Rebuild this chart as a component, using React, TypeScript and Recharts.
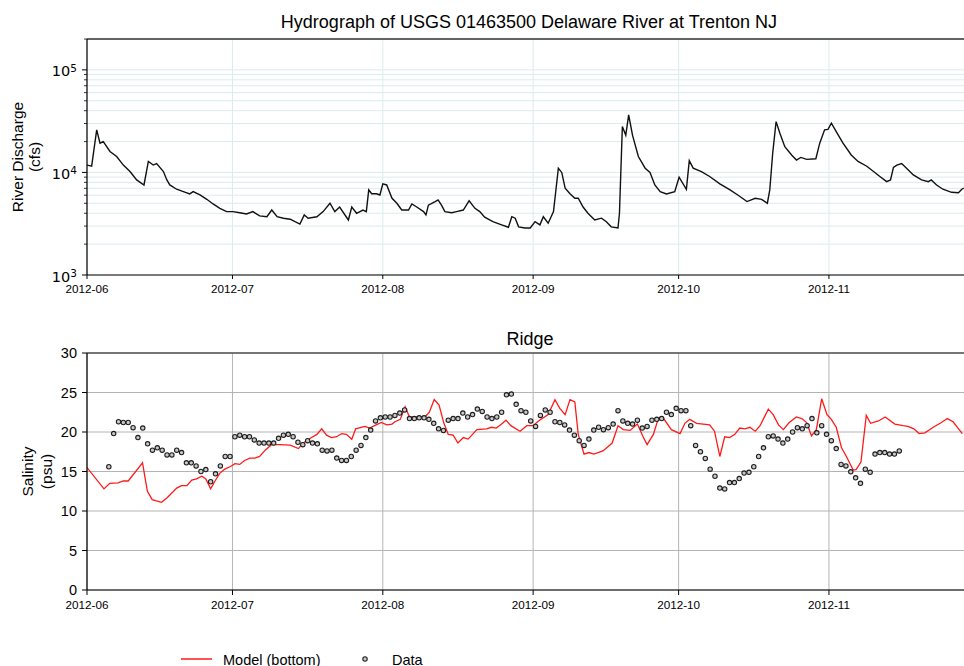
import React from "react";
import {
  LineChart,
  ComposedChart,
  Line,
  Scatter,
  XAxis,
  YAxis,
  CartesianGrid,
  ReferenceLine,
} from "recharts";

// ---- data ----
const monthTicks = [0, 30, 61, 92, 122, 153];
const monthLabels = ["2012-06", "2012-07", "2012-08", "2012-09", "2012-10", "2012-11"];

const flowTicks = [
  1000, 2000, 3000, 4000, 5000, 6000, 7000, 8000, 9000,
  10000, 20000, 30000, 40000, 50000, 60000, 70000, 80000, 90000,
  100000, 200000,
];
const salinityTicks = [0, 5, 10, 15, 20, 25, 30];

// days since 2012-06-01
const hydroDays = [
  0, 0.96, 2.0, 2.68, 3.36, 4.74, 6.12, 7.49, 8.87, 10.24,
  11.75, 12.65, 13.66, 14.36, 15.76, 16.47, 17.07, 18.48, 19.88, 21.19,
  21.89, 23.3, 24.7, 26.0, 27.4, 28.8, 30.1, 31.5, 32.9, 34.2,
  35.6, 37.1, 38.1, 39.2, 40.5, 41.9, 42.9, 43.9, 44.8, 45.6,
  47.4, 48.7, 50.1, 51.1, 52.1, 53.9, 54.6, 55.6, 56.9, 57.6,
  58.1, 58.7, 59.7, 60.4, 61.0, 61.8, 62.9, 63.9, 64.9, 66.3,
  67.0, 68.0, 69.4, 69.9, 70.4, 71.8, 72.4, 73.1, 73.8, 75.2,
  76.2, 77.6, 78.8, 80.0, 81.0, 82.0, 83.7, 85.5, 86.9, 87.6,
  88.3, 89.0, 90.3, 91.4, 92.4, 93.4, 94.1, 95.1, 96.2, 97.2,
  97.9, 98.6, 99.6, 100.6, 101.3, 102.3, 103.3, 104.7, 106.1, 107.1,
  108.1, 109.5, 109.8, 110.4, 111.1, 111.7, 112.5, 113.7, 115.1, 116.1,
  117.1, 118.2, 119.5, 121.2, 122.1, 123.6, 124.2, 125.0, 126.7, 128.4,
  130.5, 132.6, 134.2, 136.1, 137.8, 139.1, 140.3, 140.8, 141.4, 142.1,
  142.9, 143.9, 145.3, 146.3, 147.2, 148.4, 150.3, 151.1, 152.1, 152.8,
  153.5, 154.5, 155.9, 157.6, 159.0, 160.8, 162.2, 163.5, 164.9, 165.7,
  166.3, 167.0, 168.0, 169.0, 170.4, 172.1, 173.5, 174.1, 175.2, 176.5,
  178.3, 179.7, 180.4, 180.8,
];
const hydroFlow = [
  11800, 11500, 26000, 19300, 20000, 16000, 14300, 11800, 10200, 8450,
  7550, 12800, 11800, 12200, 10200, 8450, 7550, 6860, 6500, 6170,
  6500, 6030, 5470, 4930, 4470, 4150, 4150, 4050, 3940, 4150,
  3770, 3700, 4300, 3700, 3580, 3500, 3310, 3140, 3850, 3580,
  3700, 4150, 5010, 4150, 4600, 3440, 4600, 4000, 4300, 4150,
  6760, 6200, 6200, 6030, 7730, 7550, 5600, 5010, 4300, 4300,
  4930, 4600, 4150, 3850, 4800, 5200, 5400, 4800, 4150, 4050,
  4150, 4300, 5300, 4470, 4150, 3660, 3310, 3080, 2920, 3700,
  3580, 2950, 2870, 2870, 3310, 3080, 3700, 3200, 4150, 11000,
  10000, 7020, 6200, 5600, 5600, 4600, 4000, 3440, 3580, 3310,
  2950, 2870, 4000, 28000, 23000, 36400, 23000, 14300, 11000, 10000,
  7550, 6500, 6170, 6500, 8980, 6850, 13000, 11000, 10200, 9130,
  7730, 6760, 6030, 5200, 5600, 5470, 5010, 6760, 15400, 31300,
  24000, 17800, 14800, 13200, 14000, 13400, 13600, 19300, 26000, 26300,
  30200, 25000, 19300, 14800, 12800, 11500, 10200, 9130, 8130, 8450,
  11200, 11800, 12200, 11000, 9450, 8450, 8130, 8450, 7550, 6860,
  6400, 6350, 6860, 7020,
];

const modelDays = [
  0, 3.5, 4.7, 6.4, 7.5, 8.5, 11.45, 12.45, 13.45, 15.36,
  16.47, 18.5, 19.5, 20.6, 21.6, 22.6, 23.7, 24.5, 25.5, 26.4,
  27.4, 28.4, 29.5, 30.5, 31.5, 32.5, 33.6, 34.6, 35.6, 36.75,
  38.05, 39.8, 41.9, 43.6, 44.6, 46.3, 47.4, 48.4, 49.4, 50.4,
  51.5, 52.5, 53.5, 54.6, 55.4, 57.3, 58.3, 59.3, 60.7, 61.8,
  62.9, 63.5, 64.6, 65.6, 66.5, 68.0, 69.7, 70.6, 71.6, 72.6,
  73.6, 74.5, 75.5, 76.5, 77.6, 78.6, 80.4, 82.4, 83.4, 84.4,
  85.5, 86.4, 87.4, 89.3, 90.7, 92.0, 93.1, 95.1, 96.5, 97.5,
  98.6, 99.6, 100.6, 101.3, 102.5, 103.5, 104.5, 106.4, 108.3, 109.5,
  110.6, 112.0, 113.5, 114.6, 115.5, 116.8, 117.8, 118.8, 120.5, 122.3,
  123.3, 124.3, 125.7, 128.4, 129.4, 130.5, 131.5, 132.5, 133.6, 134.6,
  135.7, 136.7, 137.8, 138.8, 140.5, 141.5, 142.6, 143.6, 144.8, 146.3,
  147.4, 148.4, 149.4, 150.4, 151.5, 152.6, 153.5, 154.5, 155.6, 156.6,
  158.0, 158.6, 159.6, 160.7, 161.6, 163.2, 164.6, 166.6, 168.3, 169.3,
  170.5, 171.6, 172.8, 174.5, 176.2, 177.4, 178.6, 180.5,
];
const modelSalinity = [
  15.5, 12.8, 13.5, 13.56, 13.8, 13.8, 16.1, 12.5, 11.44, 11.1,
  11.65, 12.9, 13.2, 13.2, 13.9, 14.07, 14.4, 14.07, 12.8, 13.8,
  14.8, 15.3, 15.6, 16.0, 15.9, 16.4, 16.7, 16.7, 16.9, 17.7,
  18.4, 18.4, 18.35, 17.9, 18.6, 19.3, 19.7, 20.4, 19.6, 19.3,
  19.4, 19.8, 19.7, 19.07, 20.4, 20.7, 20.5, 20.8, 21.2, 20.9,
  21.0, 21.3, 21.6, 23.2, 21.9, 21.9, 21.9, 22.5, 24.1, 23.4,
  21.1, 19.7, 19.6, 18.6, 19.3, 19.1, 20.3, 20.4, 20.6, 20.5,
  21.0, 21.5, 20.8, 20.1, 20.8, 20.8, 21.4, 22.2, 24.1, 23.0,
  22.2, 24.1, 23.8, 19.7, 17.2, 17.4, 17.2, 17.6, 18.6, 20.8,
  20.3, 20.2, 21.0, 19.5, 18.4, 19.7, 21.7, 21.8, 20.3, 19.8,
  21.1, 21.6, 21.1, 20.9, 20.1, 16.9, 19.4, 19.3, 19.7, 20.5,
  20.4, 20.6, 20.1, 20.8, 22.9, 22.2, 20.9, 20.3, 21.2, 21.9,
  21.7, 21.2, 19.5, 20.3, 24.2, 22.2, 21.6, 20.6, 18.0, 16.9,
  15.2, 15.25, 16.2, 22.1, 21.1, 21.4, 21.9, 21.0, 20.8, 20.7,
  20.4, 19.8, 19.9, 20.6, 21.2, 21.7, 21.3, 19.8,
];

// daily observations, first one on day 4.5 (June 5, midday)
const obsFirstDay = 4.5;
const obsSalinity = [
  15.6, 19.8, 21.3, 21.2, 21.2, 20.55, 19.3, 20.5, 18.5, 17.7,
  18.0, 17.7, 17.1, 17.1, 17.7, 17.4, 16.1, 16.1, 15.7, 15.0,
  15.25, 13.7, 14.7, 15.7, 16.9, 16.9, 19.4, 19.6, 19.4, 19.4,
  19.0, 18.6, 18.6, 18.6, 18.6, 19.2, 19.6, 19.7, 19.4, 18.7,
  18.4, 18.9, 18.6, 18.5, 17.7, 17.6, 17.7, 16.7, 16.4, 16.4,
  16.9, 17.7, 18.3, 19.3, 20.25, 21.4, 21.8, 21.9, 21.9, 22.1,
  22.4, 22.8, 21.7, 21.7, 21.8, 21.8, 21.6, 21.1, 20.4, 20.2,
  21.5, 21.7, 21.7, 22.4, 21.9, 22.2, 22.9, 22.6, 21.9, 21.7,
  21.9, 22.5, 24.7, 24.8, 23.5, 22.7, 22.5, 21.4, 20.7, 22.1,
  22.8, 22.5, 21.3, 21.2, 20.9, 20.25, 19.6, 18.9, 18.3, 19.1,
  20.25, 20.6, 20.3, 20.55, 21.0, 22.7, 21.4, 21.1, 21.0, 21.5,
  20.5, 20.7, 21.5, 21.6, 21.7, 22.5, 22.2, 23.0, 22.7, 22.7,
  20.8, 18.3, 17.5, 16.65, 15.3, 14.4, 12.9, 12.8, 13.6, 13.6,
  14.1, 14.8, 14.9, 15.6, 16.9, 18.0, 19.4, 19.5, 19.1, 18.6,
  19.1, 20.0, 20.55, 20.4, 20.8, 21.7, 19.9, 20.8, 19.7, 18.9,
  17.9, 15.9, 15.7, 14.96, 14.2, 13.5, 15.3, 14.9, 17.2, 17.4,
  17.4, 17.2, 17.2, 17.6,
];

const hydroData = hydroDays.map((d, i) => ({ day: d, q: hydroFlow[i] }));
const modelData = modelDays.map((d, i) => ({ day: d, s: modelSalinity[i] }));
const obsData = obsSalinity.map((s, i) => ({ day: obsFirstDay + i, s }));

// ---- styling ----
const FONT = "'Liberation Sans', Arial, Helvetica, sans-serif";
const X_DOMAIN: [number, number] = [0, 182.5];
const CHART_W = 972;

const monthFmt = (v: number) => {
  const i = monthTicks.indexOf(v);
  return i >= 0 ? monthLabels[i] : "";
};

function FlowTick(props: any) {
  const { x, y, payload } = props;
  const v = payload.value as number;
  const e = Math.log10(v);
  const exp = Math.round(e);
  const major = Math.abs(e - exp) < 1e-9;
  return (
    <g>
      <line x1={x} x2={x - (major ? 5 : 3)} y1={y} y2={y} stroke="#000" strokeWidth={major ? 1 : 0.8} />
      {major && (
        <text
          x={x - 10}
          y={y + 6.5}
          textAnchor="end"
          fontFamily="'DejaVu Sans', sans-serif"
          fontSize={14.5}
          fill="#000"
        >
          10
          <tspan dy={-4.5} fontSize={10.5}>
            {exp}
          </tspan>
        </text>
      )}
    </g>
  );
}

function ObsDot(props: any) {
  const { cx, cy } = props;
  if (cx == null || cy == null) return null;
  return <circle cx={cx} cy={cy} r={2.2} fill="#c8c8c8" stroke="#1e1e1e" strokeWidth={1.1} />;
}

export default function App() {
  return (
    <div
      style={{
        position: "absolute",
        left: 0,
        top: 0,
        width: 964,
        height: 666,
        overflow: "hidden",
        background: "#fff",
        fontFamily: FONT,
      }}
    >
      {/* Top panel: hydrograph */}
      <div style={{ position: "absolute", left: 0, top: 0 }}>
        <LineChart
          width={CHART_W}
          height={300}
          data={hydroData}
          margin={{ top: 39, right: 0, bottom: 5, left: 0 }}
        >
          <CartesianGrid stroke="#dcebee" strokeWidth={1} />
          <XAxis
            dataKey="day"
            type="number"
            domain={X_DOMAIN}
            allowDataOverflow
            ticks={monthTicks}
            interval={0}
            tickFormatter={monthFmt}
            height={20}
            tickSize={4}
            tickMargin={6}
            axisLine={{ stroke: "#000", strokeWidth: 1.2 }}
            tickLine={{ stroke: "#000" }}
            tick={{ fontSize: 11.7, fill: "#000", fontFamily: FONT }}
          />
          <YAxis
            type="number"
            scale="log"
            domain={[1000, 200000]}
            allowDataOverflow
            ticks={flowTicks}
            interval={0}
            width={87}
            tickSize={0}
            tickMargin={0}
            tickLine={false}
            axisLine={{ stroke: "#000", strokeWidth: 1.2 }}
            tick={<FlowTick />}
          />
          <ReferenceLine y={200000} stroke="#333" strokeWidth={1.5} ifOverflow="visible" />
          <Line
            dataKey="q"
            type="linear"
            stroke="#111"
            strokeWidth={1.4}
            dot={false}
            isAnimationActive={false}
          />
        </LineChart>
      </div>

      {/* Bottom panel: salinity */}
      <div style={{ position: "absolute", left: 0, top: 320 }}>
        <ComposedChart
          width={CHART_W}
          height={300}
          margin={{ top: 33, right: 0, bottom: 5, left: 0 }}
        >
          <CartesianGrid stroke="#b4b4b4" strokeWidth={1} />
          <XAxis
            dataKey="day"
            type="number"
            domain={X_DOMAIN}
            allowDataOverflow
            ticks={monthTicks}
            interval={0}
            tickFormatter={monthFmt}
            height={25}
            tickSize={5}
            tickMargin={6}
            axisLine={{ stroke: "#000", strokeWidth: 1.2 }}
            tickLine={{ stroke: "#000" }}
            tick={{ fontSize: 11.7, fill: "#000", fontFamily: FONT }}
          />
          <YAxis
            type="number"
            domain={[0, 30]}
            ticks={salinityTicks}
            interval={0}
            width={87}
            tickSize={5}
            tickMargin={5}
            axisLine={{ stroke: "#000", strokeWidth: 1.2 }}
            tickLine={{ stroke: "#000" }}
            tick={{ fontSize: 14.5, fill: "#000", fontFamily: FONT }}
          />
          <ReferenceLine y={30} stroke="#555" strokeWidth={1.5} ifOverflow="visible" />
          <Line
            data={modelData}
            dataKey="s"
            type="linear"
            stroke="#ff1a1a"
            strokeWidth={1.3}
            dot={false}
            isAnimationActive={false}
          />
          <Scatter
            data={obsData}
            dataKey="s"
            shape={<ObsDot />}
            isAnimationActive={false}
          />
        </ComposedChart>
      </div>

      {/* Titles, axis labels, legend */}
      <svg
        width={964}
        height={666}
        style={{ position: "absolute", left: 0, top: 0, pointerEvents: "none" }}
        fontFamily={FONT}
      >
        <text x={529} y={28} textAnchor="middle" fontSize={18} fill="#000">
          Hydrograph of USGS 01463500 Delaware River at Trenton NJ
        </text>
        <text x={530} y={344.5} textAnchor="middle" fontSize={18} fill="#000">
          Ridge
        </text>

        <text transform="translate(23,157) rotate(-90)" textAnchor="middle" fontSize={15.5} fill="#000">
          River Discharge
        </text>
        <text transform="translate(40,157) rotate(-90)" textAnchor="middle" fontSize={15.5} fill="#000">
          (cfs)
        </text>
        <text transform="translate(33,471.5) rotate(-90)" textAnchor="middle" fontSize={15.5} fill="#000">
          Salinity
        </text>
        <text transform="translate(52,471.5) rotate(-90)" textAnchor="middle" fontSize={15.5} fill="#000">
          (psu)
        </text>

        <line x1={181} x2={212} y1={659} y2={659} stroke="#ff1a1a" strokeWidth={1.5} />
        <text x={223} y={664.5} fontSize={14.5} fill="#000">
          Model (bottom)
        </text>
        <circle cx={365} cy={659} r={2.2} fill="#c8c8c8" stroke="#1e1e1e" strokeWidth={1.1} />
        <text x={392} y={664.5} fontSize={14.5} fill="#000">
          Data
        </text>
      </svg>
    </div>
  );
}
